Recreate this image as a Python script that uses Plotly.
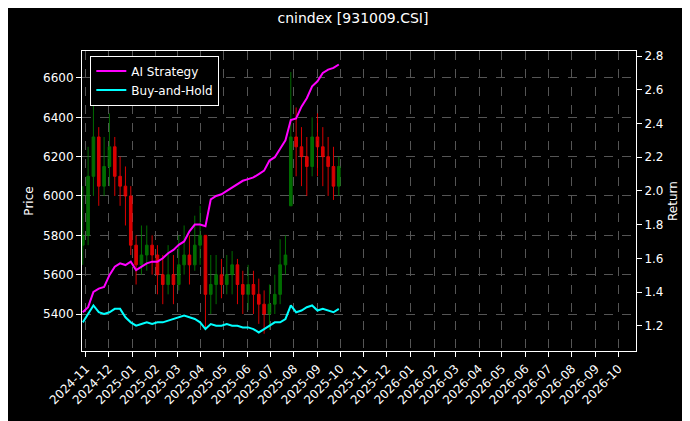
import pandas as pd
import plotly.graph_objects as go

weeks = pd.date_range("2024-10-28", "2025-09-29", freq="W-MON")

closes = [5800, 6100, 6300, 6050, 6150, 6250, 6100, 6050, 6000, 5750,
          5650, 5700, 5750, 5700, 5600, 5550, 5600, 5550, 5650, 5700,
          5650, 5750, 5800, 5500, 5550, 5600, 5550, 5600, 5650, 5550,
          5500, 5550, 5500, 5450, 5400, 5450, 5500, 5650, 5700, 6300,
          6250, 6200, 6150, 6300, 6250, 6200, 6150, 6050, 6150]
opens = [5750, 5800, 6100, 6300, 6050, 6150, 6250, 6100, 6050, 6000,
         5750, 5650, 5700, 5750, 5700, 5600, 5550, 5600, 5550, 5650,
         5700, 5650, 5750, 5800, 5500, 5550, 5600, 5550, 5600, 5650,
         5550, 5500, 5550, 5500, 5450, 5400, 5450, 5500, 5650, 5950,
         6300, 6250, 6200, 6150, 6300, 6250, 6200, 6150, 6050]
highs = [6050, 6250, 6480, 6350, 6300, 6420, 6300, 6200, 6150, 6050,
         5800, 5850, 5850, 5800, 5750, 5700, 5750, 5700, 5800, 5850,
         5800, 5900, 5950, 5800, 5700, 5700, 5680, 5700, 5720, 5680,
         5620, 5650, 5620, 5580, 5520, 5550, 5600, 5780, 5800, 6630,
         6450, 6350, 6300, 6400, 6420, 6350, 6300, 6250, 6200]
lows = [5650, 5750, 6000, 5950, 6000, 6050, 6000, 5950, 5850, 5700,
        5550, 5600, 5620, 5600, 5500, 5450, 5500, 5450, 5520, 5600,
        5550, 5620, 5650, 5330, 5400, 5450, 5480, 5500, 5500, 5450,
        5400, 5420, 5400, 5350, 5300, 5320, 5400, 5450, 5600, 5950,
        6100, 6050, 6000, 6100, 6100, 6050, 6000, 5980, 6000]

ai_strategy = [1.28, 1.31, 1.40, 1.42, 1.43, 1.50, 1.55, 1.57, 1.56, 1.58,
               1.53, 1.55, 1.57, 1.58, 1.58, 1.60, 1.63, 1.65, 1.68, 1.70,
               1.76, 1.80, 1.80, 1.79, 1.95, 1.97, 1.98, 2.00, 2.02, 2.04,
               2.06, 2.07, 2.08, 2.10, 2.12, 2.18, 2.20, 2.25, 2.30, 2.42,
               2.43, 2.50, 2.55, 2.62, 2.65, 2.70, 2.72, 2.73, 2.75]
buy_hold = [1.22, 1.27, 1.32, 1.28, 1.27, 1.28, 1.30, 1.30, 1.25, 1.22,
            1.20, 1.21, 1.22, 1.21, 1.22, 1.22, 1.23, 1.24, 1.25, 1.26,
            1.25, 1.24, 1.22, 1.18, 1.21, 1.20, 1.20, 1.21, 1.20, 1.20,
            1.19, 1.19, 1.18, 1.16, 1.18, 1.20, 1.22, 1.22, 1.24, 1.32,
            1.28, 1.29, 1.31, 1.32, 1.29, 1.30, 1.29, 1.28, 1.30]

fig = go.Figure()
fig.add_trace(go.Candlestick(
    x=weeks, open=opens, high=highs, low=lows, close=closes,
    increasing=dict(line=dict(color="green", width=1), fillcolor="green"),
    decreasing=dict(line=dict(color="red", width=1), fillcolor="red"),
    whiskerwidth=0, showlegend=False, opacity=0.85))
fig.add_trace(go.Scatter(x=weeks, y=ai_strategy, name="AI Strategy", yaxis="y2",
                         mode="lines", line=dict(color="#ff00ff", width=2)))
fig.add_trace(go.Scatter(x=weeks, y=buy_hold, name="Buy-and-Hold", yaxis="y2",
                         mode="lines", line=dict(color="#00ffff", width=2)))

month_ticks = pd.date_range("2024-11-01", "2026-10-01", freq="MS")
grid = dict(showgrid=True, gridcolor="#555", griddash="dash", gridwidth=0.5)
fig.update_layout(
    width=690, height=421,
    paper_bgcolor="black", plot_bgcolor="black",
    font=dict(family="DejaVu Sans", color="white", size=12),
    title=dict(text="cnindex [931009.CSI]", x=0.5, y=0.975, xanchor="center",
               yanchor="middle", font=dict(size=14)),
    margin=dict(l=74, r=62, t=43, b=78),
    xaxis=dict(range=["2024-10-27", "2026-10-24"], tickvals=month_ticks,
               ticktext=[d.strftime("%Y-%m") for d in month_ticks],
               tickangle=-45, rangeslider=dict(visible=False), automargin=False,
               showline=True, linecolor="white", mirror=True,
               ticks="outside", tickcolor="white", **grid),
    yaxis=dict(title=dict(text="Price", font=dict(size=12), standoff=6),
               range=[5212, 6737], automargin=False,
               dtick=200, showline=True, linecolor="white", ticks="outside",
               tickcolor="white", zeroline=False, **grid),
    yaxis2=dict(title=dict(text="Return", font=dict(size=12), standoff=6),
                overlaying="y", automargin=False,
                side="right", range=[1.05, 2.83], dtick=0.2, tickformat=".1f",
                showline=True, linecolor="white", ticks="outside",
                tickcolor="white", showgrid=False, zeroline=False),
    legend=dict(x=0.015, y=0.985, xanchor="left", yanchor="top",
                bgcolor="black", bordercolor="white", borderwidth=1,
                font=dict(size=12)),
)
fig.write_html("out.html")
